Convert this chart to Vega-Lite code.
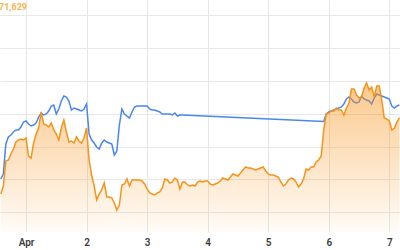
{
  "$schema": "https://vega.github.io/schema/vega-lite/v6.json",
  "width": 400,
  "height": 232,
  "autosize": {"type": "none"},
  "padding": {"left": 0, "top": 0, "right": 0, "bottom": 18},
  "background": "white",
  "config": {"view": {"stroke": null}},
  "datasets": {
    "orange": [
      {"t":"2024-03-31T14:00","v":61554},{"t":"2024-03-31T15:00","v":61797},{"t":"2024-03-31T16:00","v":62559},{"t":"2024-03-31T17:00","v":62589},{"t":"2024-03-31T18:00","v":62772},{"t":"2024-03-31T19:00","v":62924},{"t":"2024-03-31T20:00","v":63138},{"t":"2024-03-31T21:00","v":63199},{"t":"2024-03-31T22:00","v":63229},{"t":"2024-03-31T23:00","v":63199},
      {"t":"2024-04-01T00:00","v":63259},{"t":"2024-04-01T01:00","v":62711},{"t":"2024-04-01T02:00","v":62650},{"t":"2024-04-01T03:00","v":63107},{"t":"2024-04-01T04:00","v":63381},{"t":"2024-04-01T05:00","v":63564},{"t":"2024-04-01T06:00","v":64052},{"t":"2024-04-01T07:00","v":63686},{"t":"2024-04-01T08:00","v":63655},{"t":"2024-04-01T09:00","v":63595},{"t":"2024-04-01T10:00","v":63716},{"t":"2024-04-01T11:00","v":63503},{"t":"2024-04-01T12:00","v":63381},{"t":"2024-04-01T13:00","v":63199},{"t":"2024-04-01T14:00","v":63564},{"t":"2024-04-01T15:00","v":63808},{"t":"2024-04-01T16:00","v":63442},{"t":"2024-04-01T17:00","v":63138},{"t":"2024-04-01T18:00","v":63168},{"t":"2024-04-01T19:00","v":63107},{"t":"2024-04-01T20:00","v":63290},{"t":"2024-04-01T21:00","v":63168},{"t":"2024-04-01T22:00","v":63107},{"t":"2024-04-01T23:00","v":63259},
      {"t":"2024-04-02T00:00","v":63564},{"t":"2024-04-02T01:00","v":62589},{"t":"2024-04-02T02:00","v":62132},{"t":"2024-04-02T03:00","v":61797},{"t":"2024-04-02T04:00","v":61371},{"t":"2024-04-02T05:00","v":61554},{"t":"2024-04-02T06:00","v":61675},{"t":"2024-04-02T07:00","v":61889},{"t":"2024-04-02T08:00","v":61462},{"t":"2024-04-02T09:00","v":61462},{"t":"2024-04-02T10:00","v":61432},{"t":"2024-04-02T11:00","v":61280},{"t":"2024-04-02T12:00","v":61066},{"t":"2024-04-02T13:00","v":61219},{"t":"2024-04-02T14:00","v":61828},{"t":"2024-04-02T15:00","v":61858},{"t":"2024-04-02T16:00","v":62011},{"t":"2024-04-02T17:00","v":61797},{"t":"2024-04-02T18:00","v":61980},{"t":"2024-04-02T19:00","v":61980},{"t":"2024-04-02T20:00","v":61980},{"t":"2024-04-02T21:00","v":61980},{"t":"2024-04-02T22:00","v":61950},{"t":"2024-04-02T23:00","v":61858},
      {"t":"2024-04-03T00:00","v":61706},{"t":"2024-04-03T01:00","v":61584},{"t":"2024-04-03T02:00","v":61554},{"t":"2024-04-03T03:00","v":61523},{"t":"2024-04-03T04:00","v":61584},{"t":"2024-04-03T05:00","v":61615},{"t":"2024-04-03T06:00","v":61736},{"t":"2024-04-03T07:00","v":62011},{"t":"2024-04-03T08:00","v":61980},{"t":"2024-04-03T09:00","v":61889},{"t":"2024-04-03T10:00","v":61919},{"t":"2024-04-03T11:00","v":62041},{"t":"2024-04-03T12:00","v":61980},{"t":"2024-04-03T13:00","v":61706},{"t":"2024-04-03T14:00","v":61919},{"t":"2024-04-03T15:00","v":61919},{"t":"2024-04-03T16:00","v":61828},{"t":"2024-04-03T17:00","v":61797},{"t":"2024-04-03T18:00","v":61828},{"t":"2024-04-03T19:00","v":61797},{"t":"2024-04-03T20:00","v":61919},{"t":"2024-04-03T21:00","v":61950},{"t":"2024-04-03T22:00","v":61919},{"t":"2024-04-03T23:00","v":61950},
      {"t":"2024-04-04T00:00","v":61950},{"t":"2024-04-04T01:00","v":61858},{"t":"2024-04-04T02:00","v":61828},{"t":"2024-04-04T03:00","v":61858},{"t":"2024-04-04T04:00","v":61889},{"t":"2024-04-04T05:00","v":61950},{"t":"2024-04-04T06:00","v":62041},{"t":"2024-04-04T07:00","v":62011},{"t":"2024-04-04T08:00","v":61980},{"t":"2024-04-04T09:00","v":62071},{"t":"2024-04-04T10:00","v":62163},{"t":"2024-04-04T11:00","v":62132},{"t":"2024-04-04T12:00","v":62102},{"t":"2024-04-04T13:00","v":62193},{"t":"2024-04-04T14:00","v":62285},{"t":"2024-04-04T15:00","v":62376},{"t":"2024-04-04T16:00","v":62346},{"t":"2024-04-04T17:00","v":62346},{"t":"2024-04-04T18:00","v":62315},{"t":"2024-04-04T19:00","v":62285},{"t":"2024-04-04T20:00","v":62315},{"t":"2024-04-04T21:00","v":62346},{"t":"2024-04-04T22:00","v":62376},{"t":"2024-04-04T23:00","v":62254},
      {"t":"2024-04-05T00:00","v":62163},{"t":"2024-04-05T01:00","v":62132},{"t":"2024-04-05T02:00","v":62132},{"t":"2024-04-05T03:00","v":62102},{"t":"2024-04-05T04:00","v":62071},{"t":"2024-04-05T05:00","v":61919},{"t":"2024-04-05T06:00","v":61797},{"t":"2024-04-05T07:00","v":61858},{"t":"2024-04-05T08:00","v":61980},{"t":"2024-04-05T09:00","v":62041},{"t":"2024-04-05T10:00","v":62011},{"t":"2024-04-05T11:00","v":61919},{"t":"2024-04-05T12:00","v":61767},{"t":"2024-04-05T13:00","v":61858},{"t":"2024-04-05T14:00","v":62011},{"t":"2024-04-05T15:00","v":62315},{"t":"2024-04-05T16:00","v":62285},{"t":"2024-04-05T17:00","v":62376},{"t":"2024-04-05T18:00","v":62376},{"t":"2024-04-05T19:00","v":62528},{"t":"2024-04-05T20:00","v":62589},{"t":"2024-04-05T21:00","v":62711},{"t":"2024-04-05T22:00","v":63503},{"t":"2024-04-05T23:00","v":63991},
      {"t":"2024-04-06T00:00","v":64021},{"t":"2024-04-06T01:00","v":64082},{"t":"2024-04-06T02:00","v":64082},{"t":"2024-04-06T03:00","v":64173},{"t":"2024-04-06T04:00","v":64112},{"t":"2024-04-06T05:00","v":64112},{"t":"2024-04-06T06:00","v":63960},{"t":"2024-04-06T07:00","v":64173},{"t":"2024-04-06T08:00","v":64326},{"t":"2024-04-06T09:00","v":64752},{"t":"2024-04-06T10:00","v":64752},{"t":"2024-04-06T11:00","v":64569},{"t":"2024-04-06T12:00","v":64478},{"t":"2024-04-06T13:00","v":64508},{"t":"2024-04-06T14:00","v":64783},{"t":"2024-04-06T15:00","v":64935},{"t":"2024-04-06T16:00","v":64722},{"t":"2024-04-06T17:00","v":64813},{"t":"2024-04-06T18:00","v":64508},{"t":"2024-04-06T19:00","v":64844},{"t":"2024-04-06T20:00","v":64844},{"t":"2024-04-06T21:00","v":64417},{"t":"2024-04-06T22:00","v":63869},{"t":"2024-04-06T23:00","v":63838},
      {"t":"2024-04-07T00:00","v":63777},{"t":"2024-04-07T01:00","v":63503},{"t":"2024-04-07T02:00","v":63564},{"t":"2024-04-07T03:00","v":63747},{"t":"2024-04-07T04:00","v":63869}
    ],
    "blue": [
      {"t":"2024-03-31T14:00","v":62011},{"t":"2024-03-31T15:00","v":62163},{"t":"2024-03-31T16:00","v":63077},{"t":"2024-03-31T17:00","v":63290},{"t":"2024-03-31T18:00","v":63351},{"t":"2024-03-31T19:00","v":63442},{"t":"2024-03-31T20:00","v":63503},{"t":"2024-03-31T21:00","v":63503},{"t":"2024-03-31T22:00","v":63595},{"t":"2024-03-31T23:00","v":63747},
      {"t":"2024-04-01T00:00","v":63777},{"t":"2024-04-01T01:00","v":63686},{"t":"2024-04-01T02:00","v":63625},{"t":"2024-04-01T03:00","v":63655},{"t":"2024-04-01T04:00","v":63716},{"t":"2024-04-01T05:00","v":63899},{"t":"2024-04-01T06:00","v":64021},{"t":"2024-04-01T07:00","v":63960},{"t":"2024-04-01T08:00","v":63991},{"t":"2024-04-01T09:00","v":64082},{"t":"2024-04-01T10:00","v":64234},{"t":"2024-04-01T11:00","v":64265},{"t":"2024-04-01T12:00","v":63991},{"t":"2024-04-01T13:00","v":64143},{"t":"2024-04-01T14:00","v":64387},{"t":"2024-04-01T15:00","v":64539},{"t":"2024-04-01T16:00","v":64508},{"t":"2024-04-01T17:00","v":64387},{"t":"2024-04-01T18:00","v":64112},{"t":"2024-04-01T19:00","v":64173},{"t":"2024-04-01T20:00","v":64143},{"t":"2024-04-01T21:00","v":64112},{"t":"2024-04-01T22:00","v":64082},{"t":"2024-04-01T23:00","v":64143},
      {"t":"2024-04-02T00:00","v":64295},{"t":"2024-04-02T01:00","v":63381},{"t":"2024-04-02T02:00","v":63199},{"t":"2024-04-02T03:00","v":63107},{"t":"2024-04-02T04:00","v":62985},{"t":"2024-04-02T05:00","v":62924},{"t":"2024-04-02T06:00","v":63107},{"t":"2024-04-02T07:00","v":63199},{"t":"2024-04-02T08:00","v":63138},{"t":"2024-04-02T09:00","v":63107},{"t":"2024-04-02T10:00","v":63077},{"t":"2024-04-02T11:00","v":62742},{"t":"2024-04-02T12:00","v":62864},{"t":"2024-04-02T13:00","v":63655},{"t":"2024-04-02T14:00","v":64143},{"t":"2024-04-02T15:00","v":63991},{"t":"2024-04-02T16:00","v":63930},{"t":"2024-04-02T17:00","v":63869},{"t":"2024-04-02T18:00","v":64052},{"t":"2024-04-02T19:00","v":64204},{"t":"2024-04-02T20:00","v":64234},{"t":"2024-04-02T21:00","v":64234},{"t":"2024-04-02T22:00","v":64234},{"t":"2024-04-02T23:00","v":64234},
      {"t":"2024-04-03T00:00","v":64234},{"t":"2024-04-03T01:00","v":64143},{"t":"2024-04-03T02:00","v":64112},{"t":"2024-04-03T03:00","v":64112},{"t":"2024-04-03T04:00","v":64082},{"t":"2024-04-03T05:00","v":64052},{"t":"2024-04-03T06:00","v":63991},{"t":"2024-04-03T07:00","v":63991},{"t":"2024-04-03T08:00","v":63991},{"t":"2024-04-03T09:00","v":63991},{"t":"2024-04-03T10:00","v":63960},{"t":"2024-04-03T11:00","v":64021},{"t":"2024-04-03T12:00","v":63930},{"t":"2024-04-03T13:00","v":63960},{"t":"2024-04-03T14:00","v":63960},
      {"t":"2024-04-05T22:00","v":63762},{"t":"2024-04-05T23:00","v":63991},
      {"t":"2024-04-06T00:00","v":64052},{"t":"2024-04-06T01:00","v":64082},{"t":"2024-04-06T02:00","v":64112},{"t":"2024-04-06T03:00","v":64143},{"t":"2024-04-06T04:00","v":64173},{"t":"2024-04-06T05:00","v":64204},{"t":"2024-04-06T06:00","v":64295},{"t":"2024-04-06T07:00","v":64448},{"t":"2024-04-06T08:00","v":64508},{"t":"2024-04-06T09:00","v":64448},{"t":"2024-04-06T10:00","v":64356},{"t":"2024-04-06T11:00","v":64326},{"t":"2024-04-06T12:00","v":64356},{"t":"2024-04-06T13:00","v":64539},{"t":"2024-04-06T14:00","v":64448},{"t":"2024-04-06T15:00","v":64417},{"t":"2024-04-06T16:00","v":64387},{"t":"2024-04-06T17:00","v":64295},{"t":"2024-04-06T18:00","v":64478},{"t":"2024-04-06T19:00","v":64600},{"t":"2024-04-06T20:00","v":64569},{"t":"2024-04-06T21:00","v":64539},{"t":"2024-04-06T22:00","v":64508},{"t":"2024-04-06T23:00","v":64478},
      {"t":"2024-04-07T00:00","v":64448},{"t":"2024-04-07T01:00","v":64234},{"t":"2024-04-07T02:00","v":64173},{"t":"2024-04-07T03:00","v":64234},{"t":"2024-04-07T04:00","v":64265}
    ],
    "note": [
      {"t":"2024-03-31T13:41","v":67250,"label":"71,629"}
    ]
  },
  "encoding": {
    "x": {
      "field": "t", "type": "temporal",
      "scale": {"domain": [{"year":2024,"month":"mar","date":31,"hours":13,"minutes":41},{"year":2024,"month":"apr","date":7,"hours":4,"minutes":14}]},
      "axis": {
        "title": null, "grid": true, "domain": false, "ticks": false,
        "gridColor": "#e6e6e6", "gridWidth": 1,
        "labelPadding": 5, "labelFontSize": 10, "labelFont": "Roboto", "labelFontWeight": 600, "labelColor": "#3c3c3c",
        "labelFlush": false,
        "values": [
          {"year":2024,"month":"apr","date":1},{"year":2024,"month":"apr","date":2},{"year":2024,"month":"apr","date":3},{"year":2024,"month":"apr","date":4},{"year":2024,"month":"apr","date":5},{"year":2024,"month":"apr","date":6},{"year":2024,"month":"apr","date":7}
        ],
        "labelExpr": "date(datum.value) == 1 ? 'Apr' : '' + date(datum.value)"
      }
    },
    "y": {
      "field": "v", "type": "quantitative",
      "scale": {"domain": [60396, 67463], "zero": false, "nice": false},
      "axis": {
        "title": null, "labels": false, "ticks": false, "domain": false, "grid": true,
        "gridColor": "#e8e8e8", "gridWidth": 1,
        "values": [61000, 62000, 63000, 64000, 65000, 66000, 67000]
      }
    }
  },
  "layer": [
    {
      "data": {"name": "blue"},
      "mark": {"type": "line", "color": "#4a86f0", "strokeWidth": 1.5, "interpolate": "linear"}
    },
    {
      "data": {"name": "orange"},
      "mark": {
        "type": "area",
        "fill": {
          "gradient": "linear", "x1": 0, "y1": 0, "x2": 0, "y2": 1,
          "stops": [
            {"offset": 0, "color": "rgba(247,147,26,0.5)"},
            {"offset": 1, "color": "rgba(247,147,26,0.03)"}
          ]
        }
      },
      "encoding": {"y2": {"datum": 60396}}
    },
    {
      "data": {"name": "orange"},
      "mark": {"type": "line", "color": "#f7931a", "strokeWidth": 1.5}
    },
    {
      "data": {"name": "note"},
      "mark": {"type": "text", "align": "left", "baseline": "middle", "dx": -1, "fontSize": 9, "fontWeight": "bold", "font": "Roboto", "color": "#f9b251"},
      "encoding": {"text": {"field": "label"}}
    }
  ]
}
